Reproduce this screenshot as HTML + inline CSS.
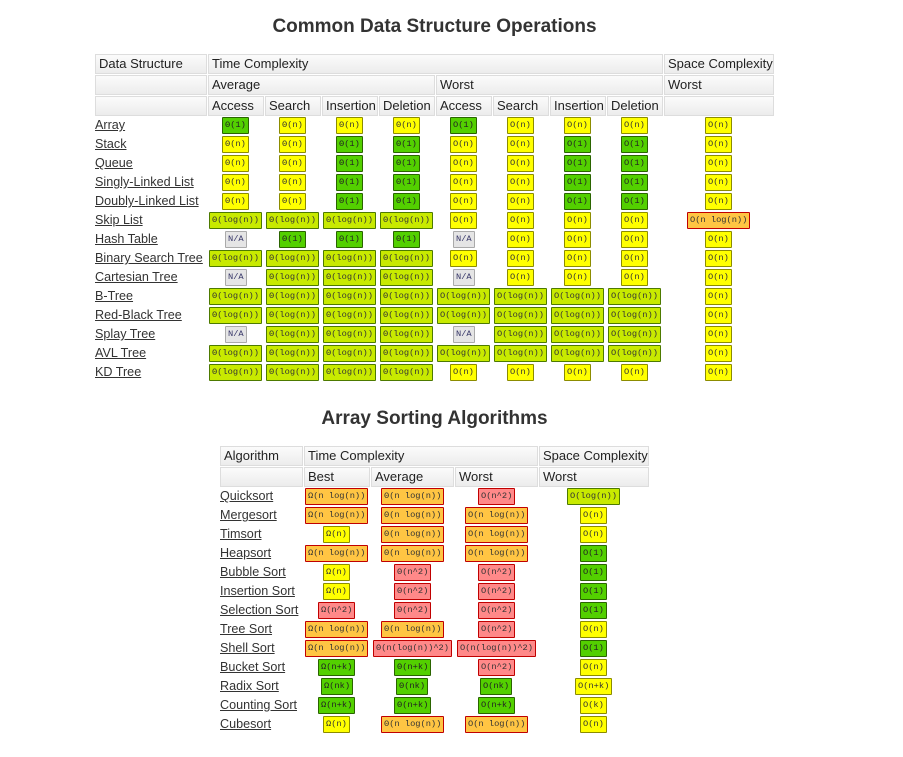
<!DOCTYPE html>
<html><head><meta charset="utf-8">
<style>
body{margin:0;background:#fff;width:903px;height:757px;position:relative;overflow:hidden;font-family:"Liberation Sans",sans-serif;color:#222}
.t{position:absolute;font-weight:bold;font-size:19px;color:#333;text-align:center;width:903px;left:-17px}
.h{position:absolute;box-sizing:border-box;border:1px solid #ddd;background:linear-gradient(#fbfbfb,#ececec);font-size:13px;line-height:18px;padding-left:3px;color:#222;white-space:nowrap}
.lk{position:absolute;font-size:12.6px;color:#333;text-decoration:underline;white-space:nowrap;line-height:16px}
.b{position:absolute;box-sizing:border-box;height:17px;line-height:15px;font-family:"Liberation Mono","DejaVu Sans Mono",monospace;font-size:8.7px;padding:0 2px;border:1px solid;white-space:nowrap;border-radius:1px}
.g{background:#53d000;border-color:#2a6400;color:#222}
.y{background:#ffff00;border-color:#8c8c00;color:#333}
.l{background:#c8ea00;border-color:#4d7a00;color:#333}
.o{background:#ffc543;border-color:#c00000;color:#333}
.r{background:#ff8989;border-color:#c00000;color:#333}
.n{background:#e5e5e5;border-color:#aaa;color:#336}
</style></head><body>
<div class="t" style="top:16px">Common Data Structure Operations</div>
<div class="t" style="top:408px">Array Sorting Algorithms</div>
<div id="root"></div>
<script>
const dsNames=["Array","Stack","Queue","Singly-Linked List","Doubly-Linked List","Skip List","Hash Table","Binary Search Tree","Cartesian Tree","B-Tree","Red-Black Tree","Splay Tree","AVL Tree","KD Tree"];
const L="Θ(log(n))",OL="O(log(n))";
const dsValues=[
["Θ(1)","Θ(n)","Θ(n)","Θ(n)","O(1)","O(n)","O(n)","O(n)","O(n)"],
["Θ(n)","Θ(n)","Θ(1)","Θ(1)","O(n)","O(n)","O(1)","O(1)","O(n)"],
["Θ(n)","Θ(n)","Θ(1)","Θ(1)","O(n)","O(n)","O(1)","O(1)","O(n)"],
["Θ(n)","Θ(n)","Θ(1)","Θ(1)","O(n)","O(n)","O(1)","O(1)","O(n)"],
["Θ(n)","Θ(n)","Θ(1)","Θ(1)","O(n)","O(n)","O(1)","O(1)","O(n)"],
[L,L,L,L,"O(n)","O(n)","O(n)","O(n)","O(n log(n))"],
["N/A","Θ(1)","Θ(1)","Θ(1)","N/A","O(n)","O(n)","O(n)","O(n)"],
[L,L,L,L,"O(n)","O(n)","O(n)","O(n)","O(n)"],
["N/A",L,L,L,"N/A","O(n)","O(n)","O(n)","O(n)"],
[L,L,L,L,OL,OL,OL,OL,"O(n)"],
[L,L,L,L,OL,OL,OL,OL,"O(n)"],
["N/A",L,L,L,"N/A",OL,OL,OL,"O(n)"],
[L,L,L,L,OL,OL,OL,OL,"O(n)"],
[L,L,L,L,"O(n)","O(n)","O(n)","O(n)","O(n)"]];
const dsColors=["gyyygyyyy","yyggyyggy","yyggyyggy","yyggyyggy","yyggyyggy","llllyyyyo","ngggnyyyy","llllyyyyy","nlllnyyyy","lllllllly","lllllllly","nlllnllly","lllllllly","llllyyyyy"];
const sortNames=["Quicksort","Mergesort","Timsort","Heapsort","Bubble Sort","Insertion Sort","Selection Sort","Tree Sort","Shell Sort","Bucket Sort","Radix Sort","Counting Sort","Cubesort"];
const sortValues=[
["Ω(n log(n))","Θ(n log(n))","O(n^2)","O(log(n))"],
["Ω(n log(n))","Θ(n log(n))","O(n log(n))","O(n)"],
["Ω(n)","Θ(n log(n))","O(n log(n))","O(n)"],
["Ω(n log(n))","Θ(n log(n))","O(n log(n))","O(1)"],
["Ω(n)","Θ(n^2)","O(n^2)","O(1)"],
["Ω(n)","Θ(n^2)","O(n^2)","O(1)"],
["Ω(n^2)","Θ(n^2)","O(n^2)","O(1)"],
["Ω(n log(n))","Θ(n log(n))","O(n^2)","O(n)"],
["Ω(n log(n))","Θ(n(log(n))^2)","O(n(log(n))^2)","O(1)"],
["Ω(n+k)","Θ(n+k)","O(n^2)","O(n)"],
["Ω(nk)","Θ(nk)","O(nk)","O(n+k)"],
["Ω(n+k)","Θ(n+k)","O(n+k)","O(k)"],
["Ω(n)","Θ(n log(n))","O(n log(n))","O(n)"]];
const sortColors=["oorl","oooy","yooy","ooog","yrrg","yrrg","rrrg","oory","orrg","ggry","gggy","gggy","yooy"];
const root=document.getElementById('root');
function add(cls,x,y,w,h,txt,name,inter){const d=document.createElement('div');d.className=cls;d.style.left=x+'px';d.style.top=y+'px';if(w)d.style.width=w+'px';if(h)d.style.height=h+'px';d.textContent=txt;


root.appendChild(d);return d;}
function badge(txt,c,cx,cy,name){const d=add('b '+c,0,cy-8,0,0,txt,name,false);const w=d.offsetWidth;d.style.left=Math.round(cx-w/2)+'px';}
const c1=[[208,263],[265,320],[322,377],[379,434],[436,491],[493,548],[550,605],[607,662],[664,773]];
add('h',95,54,112,20,'Data Structure','header-data-structure');
add('h',208,54,455,20,'Time Complexity','header-time-complexity');
add('h',664,54,110,20,'Space Complexity','header-space-complexity');
add('h',95,75,112,20,'','header-blank');
add('h',208,75,227,20,'Average','header-average');
add('h',436,75,227,20,'Worst','header-worst');
add('h',664,75,110,20,'Worst','header-space-worst');
add('h',95,96,112,20,'','header-blank');
const sub=["Access","Search","Insertion","Deletion","Access","Search","Insertion","Deletion",""];
sub.forEach((s,i)=>add('h',c1[i][0],96,c1[i][1]-c1[i][0]+1,20,s,'header-'+(s||'blank').toLowerCase()));
dsNames.forEach((n,r)=>{const cy=125+r*19;add('lk',95,cy-8,0,0,n,'link-'+n.toLowerCase().replace(/ /g,'-'),true);
dsValues[r].forEach((v,i)=>badge(v,dsColors[r][i],(c1[i][0]+c1[i][1])/2,cy,'cell-'+r+'-'+i));});
const c2=[[304,369],[371,453],[455,537],[539,648]];
add('h',220,446,83,20,'Algorithm','header-algorithm');
add('h',304,446,234,20,'Time Complexity','header-time-complexity');
add('h',539,446,110,20,'Space Complexity','header-space-complexity');
add('h',220,467,83,20,'','header-blank');
["Best","Average","Worst","Worst"].forEach((s,i)=>add('h',c2[i][0],467,c2[i][1]-c2[i][0]+1,20,s,'header-'+s.toLowerCase()));
sortNames.forEach((n,r)=>{const cy=496+r*19;add('lk',220,cy-8,0,0,n,'link-'+n.toLowerCase().replace(/ /g,'-'),true);
sortValues[r].forEach((v,i)=>badge(v,sortColors[r][i],(c2[i][0]+c2[i][1])/2,cy,'sort-cell-'+r+'-'+i));});
</script>
</body></html>
